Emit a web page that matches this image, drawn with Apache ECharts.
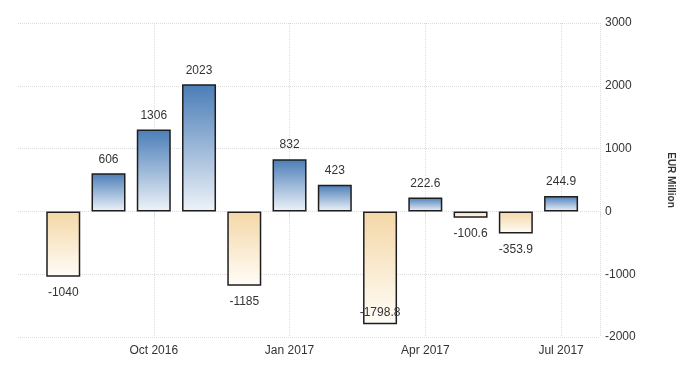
<!DOCTYPE html>
<html>
<head>
<meta charset="utf-8">
<script src="https://cdn.jsdelivr.net/npm/echarts@6/dist/echarts.min.js"></script>
<style>html,body{margin:0;padding:0;background:#fff;}#chart{width:700px;height:375px;}</style>
</head>
<body>
<div id="chart"></div>
<script>
var months = ['Aug 2016','Sep 2016','Oct 2016','Nov 2016','Dec 2016','Jan 2017','Feb 2017','Mar 2017','Apr 2017','May 2017','Jun 2017','Jul 2017'];
var values = [-1040, 606, 1306, 2023, -1185, 832, 423, -1798.8, 222.6, -100.6, -353.9, 244.9];
var tickMonths = ['Oct 2016','Jan 2017','Apr 2017','Jul 2017'];
var yTicks = [-2000, -1000, 0, 1000, 2000, 3000];

var FONT = "'Liberation Sans Narrow','Liberation Sans',sans-serif";

var posGrad = new echarts.graphic.LinearGradient(0,0,0,1,[{offset:0,color:'#4a7db7'},{offset:1,color:'#eef3f9'}]);
var negGrad = new echarts.graphic.LinearGradient(0,0,0,1,[{offset:0,color:'#f4d7a6'},{offset:1,color:'#fffdf8'}]);

var data = values.map(function(v,i){
  var item = {value:[i,v], itemStyle:{color: v>=0?posGrad:negGrad}};
  if (v < -1500) item.label = {position:'insideBottom', distance:6};
  else if (v < 0) item.label = {position:'bottom', distance:10};
  return item;
});

var chart = echarts.init(document.getElementById('chart'), null, {renderer:'canvas'});
chart.setOption({
  animation:false,
  backgroundColor:'#fff',
  grid:{left:18, right:100, top:23, bottom:38, containLabel:false},
  xAxis:{
    type:'value', min:-1, max:11.86, interval:3,
    axisLine:{show:false},
    axisTick:{show:true, length:6, lineStyle:{color:'#e2e2e2'}},
    axisLabel:{
      color:'#333', fontFamily:FONT, fontSize:12, margin:8,
      showMinLabel:false,
      formatter:function(v){ var i=Math.round(v); return (i>=0 && tickMonths.indexOf(months[i])>=0)?months[i]:''; }
    },
    splitLine:{show:true, showMinLine:false, lineStyle:{color:'#dcdcdc', type:'dotted'}}
  },
  yAxis:{
    type:'value', position:'right', min:yTicks[0], max:yTicks[yTicks.length-1], interval:1000,
    axisLine:{show:false}, axisTick:{show:false},
    axisLabel:{color:'#333', fontFamily:FONT, fontSize:12, margin:5, formatter:function(v){return String(v);}},
    splitLine:{show:true, lineStyle:{color:'#dcdcdc', type:'dotted'}},
    name:'EUR Million', nameLocation:'middle', nameRotate:-90, nameGap:66,
    nameTextStyle:{color:'#333', fontFamily:"'Liberation Sans',sans-serif", fontSize:10, fontWeight:'bold', padding:[18,0,0,0]}
  },
  series:[{
    type:'bar', barWidth:34, data:data,
    itemStyle:{borderColor:'#1e1e1e', borderWidth:1.5},
    label:{show:true, position:'top', distance:8, color:'#333', fontFamily:FONT, fontSize:12,
      formatter:function(p){return String(p.value[1]);}}
  }]
});
</script>
</body>
</html>
